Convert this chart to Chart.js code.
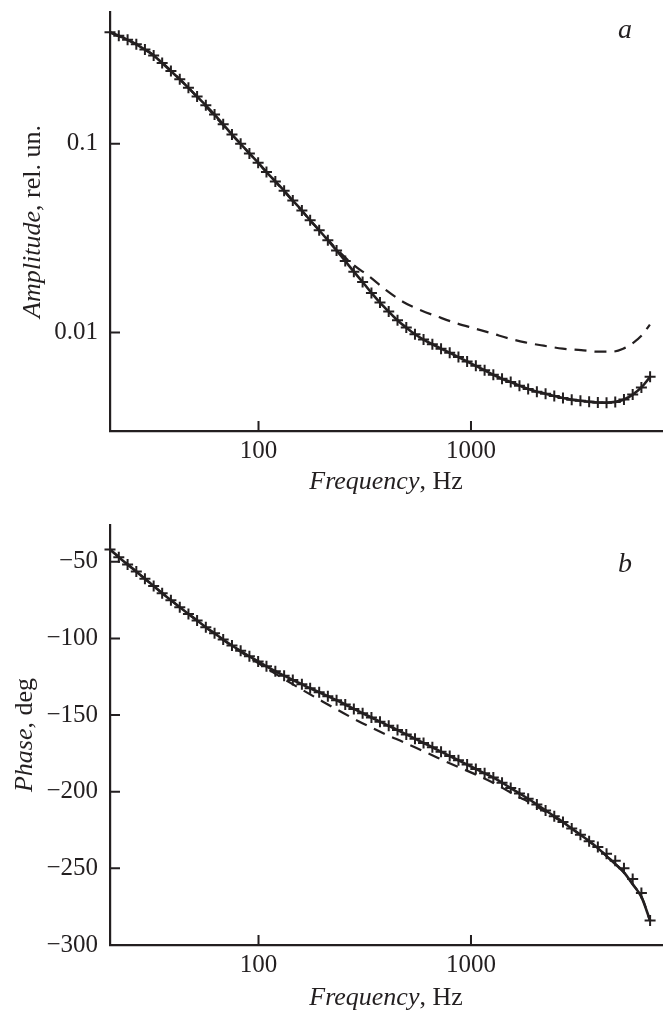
<!DOCTYPE html>
<html lang="en">
<head>
<meta charset="UTF-8">
<title>Amplitude and phase vs frequency</title>
<script src="https://cdn.jsdelivr.net/npm/chart.js"></script>
<style>
  body { margin: 0; background: #fff; }
  #wrap { position: relative; width: 667px; height: 1010px; }
  .panel { position: absolute; left: 0; width: 667px; }
  #top { top: 0; height: 500px; }
  #bottom { top: 500px; height: 510px; }
</style>
</head>
<body>
<div id="wrap">
  <div class="panel" id="top"><canvas id="ampChart"></canvas></div>
  <div class="panel" id="bottom"><canvas id="phaseChart"></canvas></div>
</div>
<script>
// measured points + fitted curve share the same frequencies
const freqHz = [20, 22, 24.2, 26.6, 29.2, 32.1, 35.2, 38.7, 42.6, 46.8,
  51.4, 56.5, 62.1, 68.2, 75, 82.4, 90.6, 99.6, 109, 120,
  132, 145, 160, 175, 193, 212, 233, 256, 281, 309,
  340, 373, 410, 451, 496, 545, 598, 658, 723, 794,
  873, 959, 1054, 1159, 1274, 1400, 1538, 1691, 1858, 2042,
  2244, 2466, 2710, 2979, 3274, 3598, 3954, 4345, 4775, 5248,
  5768, 6339, 6966];

const ampFit = [0.390, 0.374, 0.356, 0.337, 0.316, 0.294, 0.268, 0.243, 0.220, 0.198,
  0.178, 0.160, 0.143, 0.127, 0.112, 0.100, 0.0889, 0.0794, 0.0708, 0.0632,
  0.0564, 0.0500, 0.0443, 0.0393, 0.0348, 0.0308, 0.0272, 0.0239, 0.0210, 0.0185,
  0.0162, 0.0144, 0.0129, 0.0116, 0.0106, 0.00977, 0.00916, 0.00865, 0.00820, 0.00780,
  0.00740, 0.00701, 0.00665, 0.00630, 0.00596, 0.00568, 0.00545, 0.00522, 0.00501, 0.00485,
  0.00473, 0.00460, 0.00449, 0.00440, 0.00434, 0.00429, 0.00425, 0.00424, 0.00428, 0.00441,
  0.00468, 0.00511, 0.00581];
const ampMeasured = ampFit;  // crosses sit on the solid curve

const phaseFit = [-42.0, -47.0, -51.8, -56.4, -61.0, -65.8, -70.6, -75.1, -79.6, -84.0,
  -88.3, -92.7, -96.7, -100.7, -104.6, -108.1, -111.7, -115.0, -118.2, -121.4,
  -124.3, -127.1, -129.9, -132.5, -135.1, -137.7, -140.3, -143.1, -146.0, -148.8,
  -151.6, -154.3, -157.0, -159.8, -162.6, -165.4, -168.2, -171.0, -173.9, -176.7,
  -179.5, -182.3, -185.1, -188.0, -190.8, -194.1, -197.6, -201.1, -204.6, -208.4,
  -212.2, -216.0, -219.8, -224.0, -228.1, -232.3, -236.8, -242.0, -247.2, -252.6,
  -260.4, -268.7, -284.0];
const phaseMeasured = [-42.0, -47.0, -51.8, -56.4, -61.0, -65.8, -70.6, -75.1, -79.6, -84.0,
  -88.3, -92.7, -96.7, -100.7, -104.6, -108.1, -111.7, -115.0, -118.2, -121.4,
  -124.3, -127.1, -129.9, -132.5, -135.1, -137.7, -140.3, -143.1, -146.0, -148.8,
  -151.6, -154.3, -157.0, -159.8, -162.6, -165.4, -168.2, -171.0, -173.9, -176.7,
  -179.5, -182.3, -185.1, -188.0, -190.8, -194.1, -197.6, -201.1, -204.6, -208.4,
  -212.2, -216.0, -219.8, -224.0, -228.1, -232.3, -236.0, -240.5, -245.0, -250.0,
  -257.0, -266.0, -284.0];

// dashed curve
const dashFreqHz = [20, 30, 45, 67, 100, 150, 200, 240, 280, 330,
  400, 480, 580, 700, 850, 1030, 1250, 1500, 1800, 2200,
  2700, 3300, 4000, 4600, 5200, 5800, 6400, 6950];
const ampDashed = [0.390, 0.312, 0.207, 0.128, 0.0790, 0.0477, 0.0333, 0.0268, 0.0228, 0.0199,
  0.0167, 0.0145, 0.0131, 0.0121, 0.0112, 0.01052, 0.0099, 0.0093, 0.00885, 0.0085,
  0.0082, 0.00805, 0.0079, 0.0079, 0.0082, 0.0088, 0.0097, 0.0110];
const phaseDashed = [-42.0, -62.4, -82.2, -100.3, -116.2, -131.1, -141.1, -147.2, -152.3, -157.3,
  -162.8, -167.6, -172.8, -178.0, -183.2, -188.2, -193.6, -199.7, -205.5, -212.4,
  -220.0, -228.5, -237.4, -245.1, -252.0, -260.8, -269.5, -284.0];

// tick positions
const xTickValues = [30, 40, 50, 60, 70, 80, 90, 100, 200, 300, 400, 500, 600, 700, 800, 900,
  1000, 2000, 3000, 4000, 5000, 6000, 7000];
const xMajor = [100, 1000];
const ampTickValues = [0.004, 0.005, 0.006, 0.007, 0.008, 0.01, 0.02, 0.03, 0.04, 0.05,
  0.07, 0.08, 0.1, 0.2, 0.3, 0.4];
const ampMajor = [0.01, 0.1];
const phaseTickValues = [-300, -275, -250, -225, -200, -175, -150, -125, -100, -75, -50];
const phaseMajor = [-300, -250, -200, -150, -100, -50];

const INK = '#231f20';
const SERIF = '"Liberation Serif", "Times New Roman", serif';

function toXY(xs, ys) {
  return xs.map((x, i) => ({ x: x, y: ys[i] }));
}

// ticks point into the plot
const inwardTicks = {
  id: 'inwardTicks',
  afterDatasetsDraw(chart, args, opts) {
    const { ctx, chartArea: a, scales: { x, y } } = chart;
    ctx.save();
    ctx.strokeStyle = INK;
    ctx.lineWidth = 2;
    ctx.beginPath();
    x.ticks.forEach(t => {
      const px = x.getPixelForValue(t.value);
      const len = xMajor.includes(t.value) ? 10 : 6;
      ctx.moveTo(px, a.bottom);
      ctx.lineTo(px, a.bottom - len);
    });
    y.ticks.forEach(t => {
      const py = y.getPixelForValue(t.value);
      const len = opts.yMajor.includes(t.value) ? 10 : 6;
      ctx.moveTo(a.left, py);
      ctx.lineTo(a.left + len, py);
    });
    ctx.stroke();
    ctx.restore();
  }
};

function drawMixed(ctx, italicPart, plainPart, cx, cy, rot, size) {
  const fi = 'italic ' + size + 'px ' + SERIF;
  const fp = size + 'px ' + SERIF;
  ctx.font = fi;
  const wi = ctx.measureText(italicPart).width;
  ctx.font = fp;
  const wp = ctx.measureText(plainPart).width;
  ctx.save();
  ctx.translate(cx, cy);
  ctx.rotate(rot);
  ctx.textAlign = 'left';
  ctx.textBaseline = 'alphabetic';
  ctx.font = fi;
  ctx.fillText(italicPart, -(wi + wp) / 2, 0);
  ctx.font = fp;
  ctx.fillText(plainPart, -(wi + wp) / 2 + wi, 0);
  ctx.restore();
}

// axis titles (part italic) and the panel letter
const titles = {
  id: 'titles',
  afterDraw(chart, args, o) {
    const { ctx, chartArea: a } = chart;
    ctx.save();
    ctx.fillStyle = INK;
    drawMixed(ctx, 'Frequency', ', Hz', (a.left + a.right) / 2, a.bottom + o.xOffset, 0, 26);
    drawMixed(ctx, o.yItalic, o.yPlain, o.yX, (a.top + a.bottom) / 2, -Math.PI / 2, 26);
    ctx.font = 'italic 28px ' + SERIF;
    ctx.textAlign = 'center';
    ctx.textBaseline = 'alphabetic';
    ctx.fillText(o.letter, 625, o.letterY);
    ctx.restore();
  }
};

// keep the plot box where the layout padding puts it
function noLabelPadding(s) {
  s.paddingTop = 0;
  s.paddingBottom = 0;
  s.paddingLeft = 0;
  s.paddingRight = 0;
}

function freqAxis(height) {
  return {
    type: 'logarithmic',
    min: 20,
    max: 7925,
    border: { display: true, color: INK, width: 2.2 },
    grid: { display: false, drawTicks: false },
    afterBuildTicks: s => { s.ticks = xTickValues.map(v => ({ value: v })); },
    ticks: {
      autoSkip: false, maxRotation: 0, padding: 5, color: INK,
      font: { family: SERIF, size: 25 },
      callback: v => xMajor.includes(v) ? String(v) : null
    },
    afterFit: s => { s.height = height; noLabelPadding(s); }
  };
}

function lineSets(xs, fit, meas, dxs, dashed) {
  return [
    { data: toXY(xs, meas), showLine: false, pointStyle: 'cross', pointRadius: 5.5,
      pointBorderWidth: 2, pointBorderColor: INK, clip: 8 },
    { data: toXY(xs, fit), borderColor: INK, borderWidth: 2.6, pointRadius: 0,
      cubicInterpolationMode: 'monotone' },
    { data: toXY(dxs, dashed), borderColor: INK, borderWidth: 2.2, borderDash: [12, 8],
      pointRadius: 0, cubicInterpolationMode: 'monotone' }
  ];
}

new Chart(document.getElementById('ampChart'), {
  type: 'line',
  data: { datasets: lineSets(freqHz, ampFit, ampMeasured, dashFreqHz, ampDashed) },
  options: {
    responsive: true, maintainAspectRatio: false, animation: false,
    layout: { autoPadding: false, padding: { top: 12, right: 5, left: 0, bottom: 0 } },
    scales: {
      x: freqAxis(69),
      y: {
        type: 'logarithmic', min: 0.003, max: 0.5,
        border: { display: true, color: INK, width: 2.2 },
        grid: { display: false, drawTicks: false },
        afterBuildTicks: s => { s.ticks = ampTickValues.map(v => ({ value: v })); },
        ticks: {
          autoSkip: false, padding: 12, color: INK,
          font: { family: SERIF, size: 25 },
          callback: v => ampMajor.includes(v) ? String(v) : null
        },
        afterFit: s => { s.width = 110; noLabelPadding(s); }
      }
    },
    plugins: {
      legend: { display: false },
      tooltip: { enabled: false },
      inwardTicks: { yMajor: ampMajor },
      titles: { xOffset: 58, yItalic: 'Amplitude', yPlain: ', rel. un.', yX: 40, letter: 'a', letterY: 38 }
    }
  },
  plugins: [inwardTicks, titles]
});

new Chart(document.getElementById('phaseChart'), {
  type: 'line',
  data: { datasets: lineSets(freqHz, phaseFit, phaseMeasured, dashFreqHz, phaseDashed) },
  options: {
    responsive: true, maintainAspectRatio: false, animation: false,
    layout: { autoPadding: false, padding: { top: 25, right: 5, left: 0, bottom: 0 } },
    scales: {
      x: freqAxis(65),
      y: {
        type: 'linear', min: -300, max: -26,
        border: { display: true, color: INK, width: 2.2 },
        grid: { display: false, drawTicks: false },
        afterBuildTicks: s => { s.ticks = phaseTickValues.map(v => ({ value: v })); },
        ticks: {
          autoSkip: false, padding: 12, color: INK,
          font: { family: SERIF, size: 25 },
          callback: v => phaseMajor.includes(v) ? '\u2212' + Math.abs(v) : null
        },
        afterFit: s => { s.width = 110; noLabelPadding(s); }
      }
    },
    plugins: {
      legend: { display: false },
      tooltip: { enabled: false },
      inwardTicks: { yMajor: phaseMajor },
      titles: { xOffset: 60, yItalic: 'Phase', yPlain: ', deg', yX: 32, letter: 'b', letterY: 72 }
    }
  },
  plugins: [inwardTicks, titles]
});
</script>
</body>
</html>
